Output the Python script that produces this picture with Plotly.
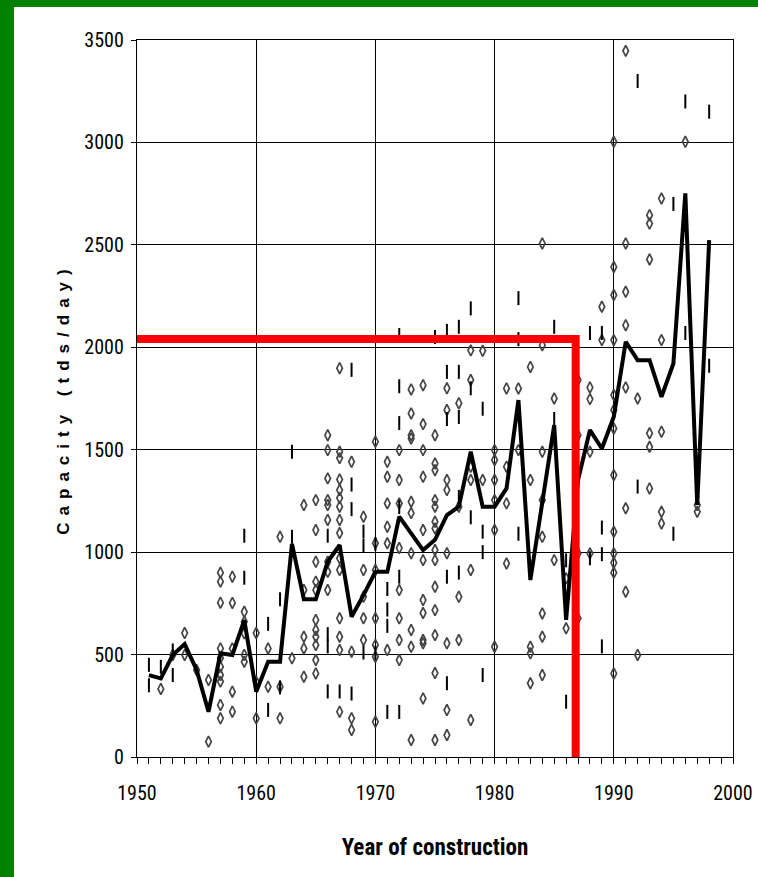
import plotly.graph_objects as go

# ---- data -------------------------------------------------------------
diamond_data = {
    1952: [332],
    1953: [498],
    1954: [605, 498],
    1955: [425],
    1956: [376, 75],
    1957: [900, 856, 753, 530, 483, 441, 400, 368, 254, 189],
    1958: [880, 752, 530, 319, 221],
    1959: [709, 660, 604, 498, 465],
    1960: [605, 368, 189],
    1961: [530, 343],
    1962: [1075, 343, 189],
    1963: [482],
    1964: [1230, 815, 587, 530, 392],
    1965: [1254, 1108, 953, 856, 815, 669, 620, 587, 547, 473, 408],
    1966: [1571, 1498, 1360, 1254, 1230, 1157, 953, 904, 815],
    1967: [1898, 1490, 1459, 1355, 1303, 1264, 1222, 1157, 1093, 970, 913, 677, 587, 522, 221],
    1968: [1441, 514, 189, 132],
    1969: [1173, 913, 782, 677, 571],
    1970: [1539, 1043, 913, 677, 547, 489, 172],
    1971: [1441, 1368, 1238, 1124, 1043, 522],
    1972: [1498, 1352, 1238, 1020, 815, 677, 571, 473],
    1973: [1794, 1677, 1571, 1555, 1246, 1191, 995, 620, 538, 83],
    1974: [1815, 1625, 1498, 1368, 1108, 961, 766, 703, 571, 555, 286],
    1975: [1571, 1433, 1400, 1254, 1222, 1148, 1116, 1010, 961, 831, 717, 595, 410, 83],
    1976: [1800, 1694, 1352, 1303, 995, 555, 229, 107],
    1977: [1727, 1222, 782, 571],
    1978: [1985, 1840, 1417, 1352, 913, 181],
    1979: [1983, 1352],
    1980: [1498, 1450, 1352, 1254, 1108, 538],
    1981: [1799, 1417, 1238, 945],
    1982: [1799, 1498],
    1983: [1904, 1352, 538, 506, 360],
    1984: [2507, 2010, 1490, 1254, 1075, 701, 587, 400],
    1985: [1750, 961],
    1986: [872, 628],
    1987: [1840, 1571, 994, 677],
    1988: [1804, 1747, 1490, 994],
    1989: [2198, 2035],
    1990: [3003, 2392, 2255, 2035, 1767, 1694, 1604, 1376, 1100, 994, 948, 900, 408],
    1991: [3447, 2507, 2271, 2108, 1804, 1214, 807],
    1992: [1750, 498],
    1993: [2645, 2604, 2429, 1580, 1514, 1311],
    1994: [2726, 2035, 1588, 1197, 1140],
    1996: [3003],
    1997: [1230, 1197],
}

dash_data = {
    1951: [450, 350],
    1952: [440],
    1953: [520, 400],
    1959: [1080, 875],
    1961: [650, 230],
    1962: [770, 340],
    1963: [1490, 1075],
    1966: [1080, 600, 540, 320],
    1967: [320],
    1968: [1890, 1330, 1210, 310],
    1969: [1100, 1030, 510],
    1970: [1040, 510],
    1971: [820, 720, 640, 220],
    1972: [2060, 1810, 1630, 1220, 880, 220],
    1975: [2050],
    1976: [2080, 1880, 1650, 880, 360],
    1977: [2100, 1880, 1660, 1270, 900],
    1978: [2190, 1800, 1170],
    1979: [1700, 1100, 1000, 400],
    1982: [2240, 2040, 1090],
    1985: [2100, 1650],
    1986: [960, 270],
    1988: [2070, 970],
    1989: [2070, 1120, 990, 540],
    1992: [3300, 1320],
    1995: [2700, 1090],
    1996: [3200, 2070],
    1998: [3150, 1910],
}

line_years = list(range(1951, 1999))
line_caps = [400, 384, 498, 551, 425, 221, 506, 498, 668, 319,
             465, 465, 1040, 770, 770, 953, 1035, 685, 790, 904,
             904, 1173, 1092, 1010, 1060, 1181, 1222, 1490, 1222, 1222,
             1311, 1742, 864, 1254, 1620, 669, 1352, 1596, 1506, 1661,
             2027, 1937, 1937, 1758, 1921, 2751, 1230, 2523]

marked_year = 1986.8
marked_capacity = 2040

x_ticks = [1950, 1960, 1970, 1980, 1990, 2000]
y_ticks = [0, 500, 1000, 1500, 2000, 2500, 3000, 3500]

# ---- build ------------------------------------------------------------
dx, dy = [], []
for yr, vals in diamond_data.items():
    for v in vals:
        dx.append(yr)
        dy.append(v)
sx, sy = [], []
for yr, vals in dash_data.items():
    for v in vals:
        sx.append(yr)
        sy.append(v)

fig = go.Figure()
fig.add_trace(go.Scatter(
    x=dx, y=dy, mode="markers",
    marker=dict(symbol="diamond-tall-open", size=8, color="#444444",
                line=dict(width=1.7, color="#444444")),
    showlegend=False, cliponaxis=False))
fig.add_trace(go.Scatter(
    x=sx, y=sy, mode="markers",
    marker=dict(symbol="line-ns", size=10,
                line=dict(width=2, color="black")),
    showlegend=False))
fig.add_trace(go.Scatter(
    x=line_years, y=line_caps, mode="lines",
    line=dict(color="black", width=4),
    showlegend=False))
fig.add_trace(go.Scatter(
    x=[x_ticks[0], marked_year, marked_year],
    y=[marked_capacity, marked_capacity, y_ticks[0]],
    mode="lines", line=dict(color="#ff0000", width=8),
    showlegend=False))

W, H = 758, 877
L, R, T, B = 137, 25, 40, 120
pw, ph = W - L - R, H - T - B

def px2x(px):
    return (px - L) / pw

def py2y(py):
    return (H - B - py) / ph

green = "#008000"
fig.add_shape(type="rect", xref="paper", yref="paper",
              x0=px2x(0), x1=px2x(14), y0=py2y(H), y1=py2y(0),
              fillcolor=green, line_width=0, layer="below")
fig.add_shape(type="rect", xref="paper", yref="paper",
              x0=px2x(0), x1=px2x(W), y0=py2y(7), y1=py2y(0),
              fillcolor=green, line_width=0, layer="below")

narrow = "Liberation Sans Narrow, Arial Narrow, Roboto Condensed, Liberation Sans, sans-serif"
tick_font = dict(family=narrow, size=20, color="black")

fig.update_layout(
    width=W, height=H, autosize=False,
    margin=dict(l=L, r=R, t=T, b=B, autoexpand=False),
    paper_bgcolor="white", plot_bgcolor="white",
    xaxis=dict(
        range=[1950, 2000], tickvals=x_ticks, ticks="outside", ticklen=6,
        tickcolor="black", tickwidth=1, showgrid=True, gridcolor="black",
        gridwidth=1.3, showline=True, linecolor="black", linewidth=1.3,
        mirror=True, zeroline=False, tickfont=tick_font,
        ticklabelstandoff=12, automargin=False,
        minor=dict(dtick=1, ticks="outside", ticklen=6, tickcolor="black",
                   tickwidth=1, showgrid=False),
        title=dict(text="<b>Year of construction</b>",
                   font=dict(family=narrow, size=23, color="black"),
                   standoff=34),
    ),
    yaxis=dict(
        range=[0, 3500], tickvals=y_ticks, ticks="outside", ticklen=5,
        tickcolor="black", tickwidth=1, showgrid=True, gridcolor="black",
        gridwidth=1.3, showline=True, linecolor="black", linewidth=1.3,
        mirror=True, zeroline=False, tickfont=tick_font,
        ticklabelstandoff=3, automargin=False,
        title=dict(text="<b><span style='letter-spacing:7px'>Capacity (tds/day)</span></b>",
                   font=dict(family="Liberation Sans, Arial, sans-serif",
                             size=17, color="black"),
                   standoff=10),
    ),
)

fig.write_html(
    "out.html",
    config={"displayModeBar": False, "responsive": False},
    post_script="document.body.style.margin='0';document.body.style.overflow='hidden';",
)
